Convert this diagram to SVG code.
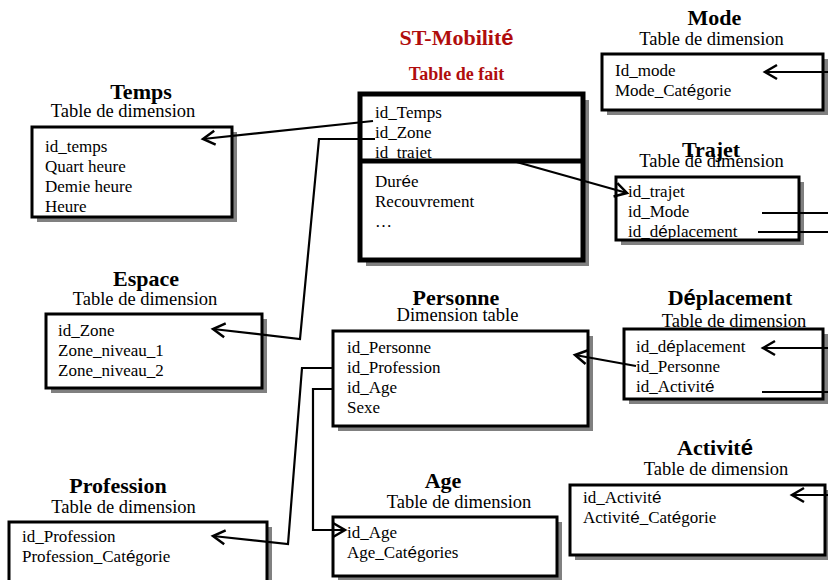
<svg xmlns="http://www.w3.org/2000/svg" width="828" height="580" viewBox="0 0 828 580">
<style>
.sh{fill:#808080;stroke:none}
.bx{fill:#fff;stroke:#000;stroke-width:3}
.fx{fill:#fff;stroke:#000;stroke-width:5}
.t{font-family:"Liberation Serif","Times New Roman",serif;font-size:22px;font-weight:bold;fill:#000;text-anchor:middle}
.s{font-family:"Liberation Serif","Times New Roman",serif;font-size:18.5px;fill:#000;text-anchor:middle}
.i{font-family:"Liberation Serif","Times New Roman",serif;font-size:17px;fill:#000}
.r{fill:#b00d0d}
.a{font-family:"Liberation Sans",Arial,sans-serif}
.c{fill:none;stroke:#000;stroke-width:2.2}
</style>
<defs>
<marker id="ar" markerUnits="userSpaceOnUse" markerWidth="16" markerHeight="16" viewBox="0 0 16 16" refX="14" refY="8" orient="auto" overflow="visible">
<path d="M2,1 L14,8 L2,15" fill="none" stroke="#000" stroke-width="2.5"/>
</marker>
</defs>

<g id="fact">
<rect class="sh" x="366" y="100" width="223" height="166"/>
<rect class="fx" x="360" y="94" width="223" height="166"/>
<line x1="358" y1="161" x2="582" y2="161" stroke="#000" stroke-width="5"/>
<text class="t r" x="456.5" y="45">ST-Mobilit<tspan class="a">é</tspan></text>
<text class="t r" x="456.5" y="80" style="font-size:18px">Table de fait</text>
<text class="i" x="375" y="118">id_Temps</text>
<text class="i" x="375" y="138">id_Zone</text>
<text class="i" x="375" y="158">id_trajet</text>
<text class="i" x="375" y="187">Dur<tspan class="a">é</tspan>e</text>
<text class="i" x="375" y="207">Recouvrement</text>
<text class="i" x="375" y="227">…</text>
</g>

<g id="temps">
<rect class="sh" x="37" y="132" width="200" height="90"/>
<rect class="bx" x="32" y="127" width="200" height="90"/>
<text class="t" x="141" y="99">Temps</text>
<text class="s" x="123" y="117">Table de dimension</text>
<text class="i" x="45" y="152">id_temps</text>
<text class="i" x="45" y="172">Quart heure</text>
<text class="i" x="45" y="192">Demie heure</text>
<text class="i" x="45" y="212">Heure</text>
</g>

<g id="espace">
<rect class="sh" x="51" y="319" width="216" height="74"/>
<rect class="bx" x="46" y="314" width="216" height="74"/>
<text class="t" x="146" y="286">Espace</text>
<text class="s" x="145" y="305">Table de dimension</text>
<text class="i" x="58" y="336">id_Zone</text>
<text class="i" x="58" y="356">Zone_niveau_1</text>
<text class="i" x="58" y="376">Zone_niveau_2</text>
</g>

<g id="mode">
<rect class="sh" x="607" y="59" width="221" height="56"/>
<rect class="bx" x="602" y="54" width="221" height="56"/>
<text class="t" x="714.5" y="25">Mode</text>
<text class="s" x="711.5" y="45">Table de dimension</text>
<text class="i" x="615" y="76">Id_mode</text>
<text class="i" x="615" y="96">Mode_Cat<tspan class="a">é</tspan>gorie</text>
</g>

<g id="trajet">
<rect class="sh" x="621" y="182" width="183" height="63"/>
<rect class="bx" x="616" y="177" width="183" height="63"/>
<text class="t" x="711" y="157">Trajet</text>
<text class="s" x="711.5" y="167">Table de dimension</text>
<text class="i" x="628" y="197">id_trajet</text>
<text class="i" x="628" y="217">id_Mode</text>
<text class="i" x="628" y="237">id_d<tspan class="a">é</tspan>placement</text>
</g>

<g id="personne">
<rect class="sh" x="338" y="336" width="255" height="95"/>
<rect class="bx" x="333" y="331" width="255" height="95"/>
<text class="t" x="456" y="305">Personne</text>
<text class="s" x="457.5" y="321">Dimension table</text>
<text class="i" x="347" y="353">id_Personne</text>
<text class="i" x="347" y="373">id_Profession</text>
<text class="i" x="347" y="393">id_Age</text>
<text class="i" x="347" y="413">Sexe</text>
</g>

<g id="deplacement">
<rect class="sh" x="629" y="334" width="199" height="70"/>
<rect class="bx" x="624" y="329" width="199" height="70"/>
<text class="t" x="730" y="305">D<tspan class="a">é</tspan>placement</text>
<text class="s" x="734" y="327">Table de dimension</text>
<text class="i" x="636" y="352">id_d<tspan class="a">é</tspan>placement</text>
<text class="i" x="636" y="372">id_Personne</text>
<text class="i" x="636" y="392">id_Activit<tspan class="a">é</tspan></text>
</g>

<g id="profession">
<rect class="sh" x="14" y="527" width="258" height="60"/>
<rect class="bx" x="9" y="522" width="258" height="60"/>
<text class="t" x="118" y="493">Profession</text>
<text class="s" x="123.5" y="513">Table de dimension</text>
<text class="i" x="22" y="542">id_Profession</text>
<text class="i" x="22" y="562">Profession_Cat<tspan class="a">é</tspan>gorie</text>
</g>

<g id="age">
<rect class="sh" x="338" y="522" width="224" height="59"/>
<rect class="bx" x="333" y="517" width="224" height="59"/>
<text class="t" x="443" y="488">Age</text>
<text class="s" x="459" y="508">Table de dimension</text>
<text class="i" x="347" y="538">id_Age</text>
<text class="i" x="347" y="558">Age_Cat<tspan class="a">é</tspan>gories</text>
</g>

<g id="activite">
<rect class="sh" x="575" y="490" width="253" height="70"/>
<rect class="bx" x="570" y="485" width="255" height="70"/>
<text class="t" x="715" y="455">Activit<tspan class="a">é</tspan></text>
<text class="s" x="716" y="475">Table de dimension</text>
<text class="i" x="583" y="503">id_Activit<tspan class="a">é</tspan></text>
<text class="i" x="583" y="523">Activit<tspan class="a">é</tspan>_Cat<tspan class="a">é</tspan>gorie</text>
</g>

<g id="connectors">
<polyline class="c" points="373,121 203,139" marker-end="url(#ar)"/>
<polyline class="c" points="375,139 319,139 300,339 213,329" marker-end="url(#ar)"/>
<polyline class="c" points="513,161 627,193" marker-end="url(#ar)"/>
<polyline class="c" points="828,72 765,72" marker-end="url(#ar)"/>
<polyline class="c" points="762,213 828,213"/>
<polyline class="c" points="758,232 828,232"/>
<polyline class="c" points="828,348 763,348" marker-end="url(#ar)"/>
<polyline class="c" points="762,392 828,392"/>
<polyline class="c" points="828,495 792,495" marker-end="url(#ar)"/>
<polyline class="c" points="636,366 575,355" marker-end="url(#ar)"/>
<polyline class="c" points="333,368 302,368 288,544 213,536" marker-end="url(#ar)"/>
<polyline class="c" points="333,389 313,389 313,530 345,530" marker-end="url(#ar)"/>
</g>
</svg>
